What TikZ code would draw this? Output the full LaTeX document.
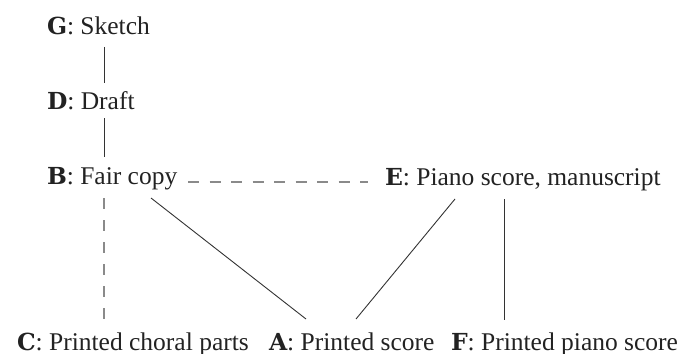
\documentclass[tikz,border=0pt]{standalone}
\usepackage{fontspec}
\setmainfont{Liberation Serif}
\newfontfamily\keyfont{DejaVu Serif}[Scale=0.92]
\usetikzlibrary{calc}
\definecolor{txt}{HTML}{222222}
\definecolor{solidc}{HTML}{333333}
\definecolor{dashc}{HTML}{8A8A8A}
\tikzset{
  lbl/.style={anchor=base west, inner sep=0pt, outer sep=0pt, text=txt, font=\fontsize{25.5}{28}\selectfont},
  solidlink/.style={draw=solidc, line width=0.9pt},
  dashlink/.style={draw=dashc, line width=1.3pt, dash pattern=on 11pt off 10.5pt},
}
\newcommand{\key}[1]{{\keyfont\bfseries #1}}
\begin{document}
\begin{tikzpicture}[x=1pt,y=-1pt]
\useasboundingbox (0,0) rectangle (687,353);
\node[lbl] (g) at (47,35) {\key{G}: Sketch};
\node[lbl] (d) at (47,109) {\key{D}: Draft};
\node[lbl] (b) at (47,184) {\key{B}: Fair copy};
\node[lbl] (e) at (385,185) {\key{E}: Piano score, manuscript};
\node[lbl] (c) at (17,350) {\key{C}: Printed choral parts};
\node[lbl] (a) at (269,350) {\key{A}: Printed score};
\node[lbl] (f) at (451,350) {\key{F}: Printed piano score};
% connectors
\draw[solidlink] ([shift={(57,12)}]g.base west) -- ([shift={(57,-26)}]d.base west);
\draw[solidlink] ([shift={(57,9)}]d.base west) -- ([shift={(57,-27)}]b.base west);
\draw[dashlink] ([shift={(141,-2)}]b.base west) -- ([shift={(-17,-3)}]e.base west);
\draw[dashlink, dash pattern=on 11pt off 11pt] ([shift={(57,14)}]b.base west) -- ([shift={(87,-30)}]c.base west);
\draw[solidlink] ([shift={(104,14)}]b.base west) -- ([shift={(37,-31)}]a.base west);
\draw[solidlink] ([shift={(70,14)}]e.base west) -- ([shift={(87,-31)}]a.base west);
\draw[solidlink] ([shift={(119,14)}]e.base west) -- ([shift={(53,-30)}]f.base west);
\end{tikzpicture}
\end{document}
